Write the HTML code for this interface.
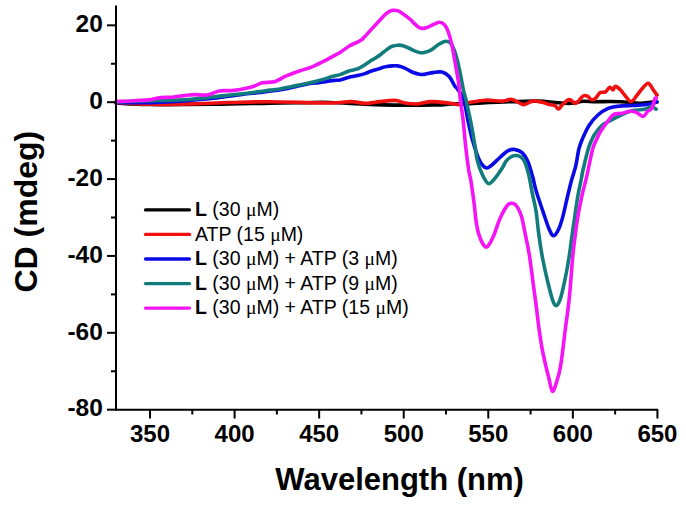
<!DOCTYPE html>
<html><head><meta charset="utf-8"><style>
html,body{margin:0;padding:0;background:#fff;}
body{width:686px;height:505px;overflow:hidden;}
svg{display:block;font-family:"Liberation Sans", sans-serif;}
</style></head><body>
<svg width="686" height="505" viewBox="0 0 686 505" font-family='"Liberation Sans", sans-serif'>
<rect width="686" height="505" fill="#fff"/>
<path d="M116.0,103.0 C121.5,103.2 132.8,104.3 149.0,104.5 C165.2,104.7 192.8,104.5 213.0,104.3 C233.2,104.1 254.7,103.4 270.0,103.1 C285.3,102.8 295.0,102.8 305.0,102.7 C315.0,102.6 317.1,102.1 330.0,102.5 C342.9,102.9 365.0,104.5 382.5,104.9 C400.0,105.3 423.8,105.1 435.0,104.9 C446.2,104.8 444.6,104.2 450.0,104.0 C455.4,103.8 458.8,104.0 467.5,103.7 C476.2,103.4 490.8,102.4 502.5,102.0 C514.2,101.6 528.8,101.0 537.5,101.1 C546.2,101.2 549.4,102.1 555.0,102.5 C560.6,102.9 566.3,103.5 571.0,103.3 C575.7,103.1 579.1,101.6 583.1,101.3 C587.1,101.0 590.6,101.7 595.1,101.7 C599.6,101.7 605.7,101.5 610.0,101.5 C614.3,101.5 617.2,101.5 621.0,101.7 C624.8,101.9 629.6,102.2 633.0,102.5 C636.4,102.8 637.9,103.4 641.1,103.3 C644.3,103.2 649.6,102.3 652.3,102.1 C654.9,101.9 656.2,102.3 657.0,102.3" fill="none" stroke="#000000" stroke-width="3.6" stroke-linejoin="round" stroke-linecap="round"/>
<path d="M116.0,102.5 C121.7,102.8 137.7,104.1 150.0,104.3 C162.3,104.5 176.5,104.2 190.0,103.9 C203.5,103.6 217.5,102.8 230.8,102.5 C244.1,102.2 253.5,101.7 270.0,101.8 C286.5,101.9 316.5,103.0 330.0,103.0 C343.5,103.0 345.2,101.5 351.0,101.6 C356.8,101.7 360.9,103.3 365.0,103.4 C369.1,103.5 370.6,102.7 375.5,102.2 C380.4,101.7 389.8,100.3 394.7,100.4 C399.6,100.5 401.4,102.4 405.2,103.0 C409.0,103.6 413.1,104.1 417.5,103.9 C421.9,103.7 426.1,101.7 431.5,101.6 C436.9,101.5 445.5,102.7 450.0,103.2 C454.5,103.7 455.8,104.6 458.7,104.6 C461.6,104.5 463.1,103.6 467.5,102.9 C471.9,102.2 479.2,100.5 485.0,100.2 C490.8,99.9 498.0,101.2 502.5,101.1 C507.0,101.0 508.6,98.8 512.1,99.4 C515.6,100.0 520.1,104.3 523.5,104.6 C526.9,104.9 529.3,101.5 532.2,101.1 C535.1,100.7 538.1,101.4 541.0,102.0 C543.9,102.6 547.4,104.0 549.7,104.6 C552.0,105.2 553.5,105.0 555.0,105.7 C556.5,106.4 557.3,109.2 558.6,108.9 C559.9,108.6 561.2,105.6 563.0,104.1 C564.8,102.5 567.2,99.7 569.4,99.6 C571.5,99.5 573.6,103.9 575.9,103.3 C578.2,102.7 581.1,97.2 583.1,96.0 C585.1,94.8 586.6,95.8 587.9,96.4 C589.2,97.0 589.9,99.2 591.1,99.6 C592.3,100.0 593.6,99.9 595.1,98.8 C596.6,97.7 598.4,93.9 599.9,92.8 C601.4,91.7 602.9,92.5 603.9,92.3 C604.9,92.1 605.0,92.3 606.0,91.5 C607.0,90.7 608.6,87.5 609.8,87.2 C611.0,87.0 612.1,90.1 613.0,90.0 C613.9,89.9 614.1,86.3 615.4,86.4 C616.7,86.5 619.1,88.5 621.0,90.4 C622.9,92.3 624.9,95.7 626.6,97.6 C628.4,99.5 629.8,102.0 631.5,101.6 C633.2,101.2 635.2,97.5 637.1,95.2 C639.0,92.9 640.8,90.0 642.7,88.0 C644.6,86.0 646.6,82.9 648.3,83.2 C650.0,83.5 651.6,87.6 653.1,89.6 C654.6,91.6 656.4,94.3 657.1,95.2" fill="none" stroke="#f01010" stroke-width="3.6" stroke-linejoin="round" stroke-linecap="round"/>
<path d="M116.0,102.5 C119.5,102.5 131.3,102.8 137.0,102.8 C142.7,102.8 144.5,102.9 150.0,102.7 C155.5,102.5 163.3,102.2 170.0,101.8 C176.7,101.4 182.8,101.0 190.0,100.4 C197.2,99.8 204.6,99.2 213.3,98.2 C222.0,97.2 234.2,95.5 242.0,94.5 C249.8,93.5 253.3,93.3 260.0,92.5 C266.7,91.7 274.4,90.8 282.0,89.5 C289.6,88.2 299.2,85.6 305.4,84.4 C311.5,83.2 314.4,83.2 318.9,82.6 C323.4,82.0 328.8,81.0 332.3,80.6 C335.8,80.1 337.2,80.5 340.0,79.9 C342.8,79.3 345.9,78.0 348.9,77.2 C351.9,76.5 355.1,76.0 357.8,75.4 C360.5,74.8 362.9,74.3 365.0,73.6 C367.1,72.9 368.6,72.1 370.4,71.4 C372.2,70.8 374.1,70.3 375.9,69.7 C377.7,69.1 379.5,68.4 381.3,67.9 C383.1,67.4 385.0,66.8 386.8,66.5 C388.6,66.2 390.4,66.0 392.2,65.9 C394.0,65.8 395.9,65.7 397.7,65.9 C399.5,66.2 401.3,66.7 403.1,67.4 C404.9,68.1 406.8,69.2 408.6,70.1 C410.4,71.0 412.2,72.1 414.0,72.8 C415.8,73.5 417.7,74.0 419.4,74.3 C421.1,74.6 421.9,74.7 424.2,74.4 C426.5,74.1 430.1,73.0 433.1,72.6 C436.1,72.2 439.3,71.4 442.0,72.1 C444.7,72.8 447.1,74.4 449.2,76.6 C451.3,78.8 453.0,83.3 454.5,85.5 C456.0,87.7 456.5,87.5 458.1,89.9 C459.7,92.3 462.2,94.8 463.9,100.0 C465.5,105.2 466.5,113.9 468.0,120.8 C469.5,127.7 471.0,135.1 472.9,141.6 C474.8,148.1 476.9,155.2 479.1,159.6 C481.3,164.0 483.9,167.0 486.0,167.9 C488.1,168.8 489.3,166.9 491.6,165.2 C493.9,163.5 497.1,159.9 499.9,157.5 C502.7,155.1 505.6,151.9 508.2,150.6 C510.8,149.3 512.9,149.2 515.2,149.6 C517.5,149.9 520.0,150.8 522.1,152.7 C524.2,154.6 525.9,157.0 527.6,161.0 C529.4,165.0 531.2,171.6 532.6,176.6 C534.0,181.6 534.4,185.0 536.1,190.8 C537.8,196.6 540.8,205.1 543.0,211.6 C545.2,218.1 547.5,225.6 549.3,229.6 C551.1,233.6 552.1,235.8 553.6,235.8 C555.1,235.8 557.0,232.8 558.5,229.6 C560.0,226.4 561.4,222.0 562.9,216.4 C564.4,210.8 566.2,201.9 567.7,195.8 C569.2,189.7 570.2,185.0 571.6,180.0 C573.0,175.0 574.6,170.9 575.8,165.7 C577.0,160.4 577.8,153.3 579.0,148.5 C580.2,143.7 581.6,140.8 583.3,136.9 C585.0,133.0 586.8,128.8 589.2,125.2 C591.6,121.5 594.8,117.8 597.9,115.0 C601.0,112.2 604.7,109.9 608.1,108.4 C611.5,106.9 614.2,106.7 618.3,106.2 C622.4,105.7 628.5,105.7 632.9,105.5 C637.3,105.3 641.1,105.2 644.5,104.8 C647.9,104.4 651.2,103.8 653.3,103.3 C655.4,102.8 656.3,102.1 656.9,101.9" fill="none" stroke="#0a0ae6" stroke-width="3.6" stroke-linejoin="round" stroke-linecap="round"/>
<path d="M116.0,102.0 C119.5,101.8 131.3,101.2 137.0,101.0 C142.7,100.8 144.5,100.7 150.0,100.6 C155.5,100.5 164.3,100.3 170.0,100.2 C175.7,100.1 180.0,100.0 184.0,99.8 C188.0,99.6 190.1,99.4 194.0,99.0 C197.9,98.6 202.3,98.2 207.5,97.6 C212.7,97.0 219.2,96.2 225.0,95.6 C230.8,95.0 236.7,94.5 242.5,93.8 C248.3,93.1 255.4,92.1 260.0,91.5 C264.6,90.9 266.9,90.5 270.0,90.1 C273.1,89.7 274.9,89.8 278.5,89.2 C282.1,88.6 287.4,87.4 291.9,86.5 C296.4,85.6 300.9,84.8 305.4,83.8 C309.9,82.8 314.4,81.8 318.9,80.6 C323.4,79.4 328.8,77.5 332.3,76.5 C335.8,75.5 337.2,75.5 340.0,74.6 C342.8,73.7 345.9,72.0 348.9,71.0 C351.9,70.0 355.1,69.8 357.8,68.8 C360.5,67.8 362.9,66.1 365.0,64.8 C367.1,63.5 368.6,62.2 370.4,61.0 C372.2,59.8 374.1,59.0 375.9,57.8 C377.7,56.6 379.5,55.4 381.3,54.0 C383.1,52.6 385.0,50.9 386.8,49.6 C388.6,48.3 390.4,47.0 392.2,46.3 C394.0,45.6 395.9,45.3 397.7,45.2 C399.5,45.1 401.3,45.3 403.1,45.8 C404.9,46.3 406.8,47.2 408.6,48.0 C410.4,48.8 412.2,49.9 414.0,50.7 C415.8,51.5 417.7,52.3 419.4,52.6 C421.1,52.9 422.2,53.0 424.2,52.5 C426.2,52.0 429.0,51.1 431.4,49.8 C433.8,48.5 436.1,45.9 438.5,44.5 C440.9,43.1 443.5,41.4 445.6,41.3 C447.7,41.1 449.4,41.6 451.0,43.6 C452.6,45.6 453.9,48.8 455.4,53.4 C456.9,58.0 458.5,65.1 459.8,71.2 C461.1,77.3 462.4,85.1 463.4,89.9 C464.4,94.7 464.8,94.6 466.0,100.0 C467.2,105.4 469.3,114.6 470.8,122.2 C472.3,129.8 473.9,139.5 475.0,145.8 C476.1,152.1 476.0,155.3 477.2,160.0 C478.4,164.7 480.1,170.0 482.0,173.9 C483.9,177.8 486.1,182.9 488.3,183.6 C490.5,184.3 492.9,180.6 495.2,178.0 C497.5,175.4 500.1,171.3 502.1,168.3 C504.1,165.3 504.8,162.1 507.0,160.0 C509.2,157.9 512.5,155.6 515.2,155.5 C518.0,155.4 521.3,156.5 523.5,159.6 C525.7,162.7 527.0,168.1 528.5,173.9 C530.0,179.8 531.3,188.4 532.6,194.7 C533.9,201.0 535.1,204.9 536.1,211.6 C537.1,218.3 537.8,226.9 538.9,235.0 C540.0,243.1 541.3,251.9 542.9,260.0 C544.5,268.1 546.5,276.8 548.2,283.7 C549.9,290.6 551.7,297.5 553.0,301.2 C554.3,304.9 555.0,305.9 556.2,305.6 C557.4,305.3 558.8,303.2 560.1,299.6 C561.4,296.0 562.7,290.3 564.1,283.7 C565.5,277.1 567.4,267.5 568.6,260.0 C569.9,252.5 570.6,245.8 571.6,238.5 C572.6,231.2 573.8,223.5 574.8,216.4 C575.8,209.3 576.8,201.9 577.9,195.8 C579.0,189.7 580.2,184.3 581.1,180.0 C582.0,175.7 581.8,175.2 583.0,170.0 C584.2,164.8 586.9,153.5 588.4,148.5 C589.9,143.5 590.6,142.4 591.7,140.0 C592.8,137.6 593.2,136.4 595.0,133.9 C596.8,131.4 599.4,127.6 602.3,125.2 C605.2,122.8 609.4,121.1 612.5,119.4 C615.6,117.7 617.8,116.5 621.2,115.0 C624.6,113.5 629.0,111.6 632.9,110.6 C636.8,109.6 641.4,109.8 644.5,109.2 C647.6,108.6 649.8,107.0 651.8,107.0 C653.8,107.0 655.5,108.8 656.2,109.2" fill="none" stroke="#127c7c" stroke-width="3.6" stroke-linejoin="round" stroke-linecap="round"/>
<path d="M116.3,101.4 C117.9,101.4 122.2,101.5 125.7,101.3 C129.2,101.1 133.4,100.7 137.3,100.5 C141.2,100.3 145.1,100.4 149.0,99.9 C152.9,99.4 156.7,98.0 160.6,97.6 C164.5,97.1 168.4,97.5 172.3,97.2 C176.2,96.9 180.3,96.0 184.0,95.6 C187.7,95.2 190.8,94.7 194.7,94.6 C198.6,94.5 203.4,95.6 207.5,95.0 C211.6,94.4 215.3,91.6 219.2,90.9 C223.1,90.2 226.9,90.9 230.8,90.6 C234.7,90.3 238.6,89.6 242.5,88.9 C246.4,88.2 250.8,87.2 254.1,86.2 C257.4,85.2 258.9,83.4 262.3,82.7 C265.7,82.0 270.6,82.8 274.4,81.8 C278.2,80.8 281.1,78.2 285.2,76.4 C289.2,74.6 294.2,72.8 298.7,71.2 C303.2,69.6 307.6,68.7 312.1,66.9 C316.6,65.1 321.6,62.4 325.6,60.3 C329.7,58.2 334.0,55.6 336.4,54.3 C338.8,53.0 337.9,53.9 340.0,52.5 C342.1,51.1 345.9,48.0 348.9,46.2 C351.9,44.4 355.4,43.2 357.8,41.9 C360.2,40.6 360.8,40.5 363.2,38.3 C365.6,36.1 369.3,31.5 372.1,28.5 C374.9,25.5 377.9,22.3 380.0,20.1 C382.1,17.9 382.9,16.7 384.4,15.3 C385.8,13.9 387.2,12.6 388.7,11.8 C390.1,11.0 391.5,10.5 393.1,10.3 C394.7,10.2 396.9,10.4 398.4,10.9 C399.9,11.4 400.6,12.2 401.9,13.1 C403.2,14.0 404.8,15.1 406.2,16.2 C407.6,17.3 409.1,18.4 410.6,19.7 C412.1,21.0 413.5,22.8 415.0,24.1 C416.5,25.4 418.1,26.9 419.4,27.6 C420.7,28.3 421.4,28.5 422.9,28.4 C424.3,28.3 426.5,27.7 428.1,27.1 C429.7,26.5 430.6,25.7 432.5,24.9 C434.4,24.1 437.4,22.3 439.4,22.3 C441.4,22.3 443.2,23.3 444.7,24.9 C446.2,26.5 447.1,28.7 448.3,32.0 C449.5,35.3 450.6,39.1 451.8,44.5 C453.0,49.9 454.2,57.3 455.4,64.1 C456.6,70.9 458.2,79.5 459.0,85.5 C459.8,91.5 459.7,94.1 460.4,100.0 C461.1,105.9 462.3,112.7 463.2,120.8 C464.1,128.9 465.0,140.3 465.9,148.5 C466.8,156.7 467.9,164.6 468.7,170.0 C469.5,175.4 469.9,174.8 470.9,180.8 C471.8,186.8 473.6,199.3 474.4,205.8 C475.2,212.3 475.2,215.3 475.9,220.0 C476.6,224.7 477.4,229.7 478.7,233.9 C480.0,238.1 482.1,242.9 483.6,245.0 C485.1,247.1 486.1,247.7 487.7,246.3 C489.3,244.9 491.2,241.2 493.3,236.6 C495.4,232.0 497.6,223.8 500.0,218.5 C502.4,213.2 505.5,207.5 507.7,205.0 C509.9,202.5 511.6,203.2 513.2,203.5 C514.8,203.8 516.0,204.9 517.4,207.1 C518.8,209.3 520.3,212.3 521.6,216.8 C522.9,221.3 523.9,227.4 525.2,233.9 C526.5,240.4 528.2,247.7 529.5,256.0 C530.8,264.3 532.1,275.1 533.2,283.7 C534.4,292.3 535.4,299.8 536.4,307.5 C537.4,315.2 538.3,323.6 539.2,330.0 C540.1,336.4 540.7,340.5 541.6,345.8 C542.5,351.1 543.6,356.4 544.8,361.7 C546.0,367.0 547.4,372.6 548.7,377.5 C550.0,382.4 551.1,390.5 552.4,391.3 C553.7,392.1 555.1,386.5 556.5,382.3 C557.9,378.1 559.1,374.7 560.6,366.0 C562.1,357.3 563.8,341.2 565.2,330.0 C566.6,318.8 568.0,310.7 569.2,299.0 C570.4,287.3 571.5,270.1 572.4,260.0 C573.3,249.9 573.9,245.8 574.8,238.5 C575.7,231.2 576.7,223.5 577.9,216.4 C579.1,209.3 580.6,201.9 581.9,195.8 C583.2,189.7 584.8,184.6 585.9,180.0 C587.0,175.4 587.4,173.2 588.5,168.0 C589.6,162.8 591.5,153.2 592.8,148.5 C594.1,143.8 595.2,142.4 596.5,139.5 C597.8,136.6 598.9,134.1 600.8,131.0 C602.7,127.9 605.9,123.6 608.1,120.8 C610.3,118.0 611.7,115.5 613.9,114.3 C616.1,113.1 618.5,114.0 621.2,113.5 C623.9,113.0 627.6,111.5 630.0,111.3 C632.4,111.1 633.6,111.2 635.8,112.1 C638.0,112.9 641.1,116.5 643.1,116.4 C645.1,116.3 646.0,112.6 647.5,111.3 C649.0,110.0 650.6,110.5 651.8,108.4 C653.0,106.4 654.1,100.7 654.8,99.0 C655.5,97.3 656.0,98.3 656.2,98.2" fill="none" stroke="#f514f5" stroke-width="3.6" stroke-linejoin="round" stroke-linecap="round"/>
<line x1="116" y1="5.4" x2="116" y2="410.8" stroke="#000" stroke-width="2"/>
<line x1="115" y1="409.8" x2="658.2" y2="409.8" stroke="#000" stroke-width="2"/>
<line x1="107" y1="409.68" x2="116" y2="409.68" stroke="#000" stroke-width="2"/>
<text x="102.8" y="416.38" text-anchor="end" font-size="24.5" font-weight="bold">-80</text>
<line x1="107" y1="332.81" x2="116" y2="332.81" stroke="#000" stroke-width="2"/>
<text x="102.8" y="339.51" text-anchor="end" font-size="24.5" font-weight="bold">-60</text>
<line x1="107" y1="255.94" x2="116" y2="255.94" stroke="#000" stroke-width="2"/>
<text x="102.8" y="262.64" text-anchor="end" font-size="24.5" font-weight="bold">-40</text>
<line x1="107" y1="179.07" x2="116" y2="179.07" stroke="#000" stroke-width="2"/>
<text x="102.8" y="185.77" text-anchor="end" font-size="24.5" font-weight="bold">-20</text>
<line x1="107" y1="102.20" x2="116" y2="102.20" stroke="#000" stroke-width="2"/>
<text x="102.8" y="108.90" text-anchor="end" font-size="24.5" font-weight="bold">0</text>
<line x1="107" y1="25.33" x2="116" y2="25.33" stroke="#000" stroke-width="2"/>
<text x="102.8" y="32.03" text-anchor="end" font-size="24.5" font-weight="bold">20</text>
<line x1="111" y1="371.25" x2="116" y2="371.25" stroke="#000" stroke-width="2"/>
<line x1="111" y1="294.38" x2="116" y2="294.38" stroke="#000" stroke-width="2"/>
<line x1="111" y1="217.50" x2="116" y2="217.50" stroke="#000" stroke-width="2"/>
<line x1="111" y1="140.63" x2="116" y2="140.63" stroke="#000" stroke-width="2"/>
<line x1="111" y1="63.77" x2="116" y2="63.77" stroke="#000" stroke-width="2"/>
<line x1="150.03" y1="409.8" x2="150.03" y2="418.5" stroke="#000" stroke-width="2"/>
<text x="150.03" y="441.5" text-anchor="middle" font-size="24" font-weight="bold">350</text>
<line x1="234.59" y1="409.8" x2="234.59" y2="418.5" stroke="#000" stroke-width="2"/>
<text x="234.59" y="441.5" text-anchor="middle" font-size="24" font-weight="bold">400</text>
<line x1="319.16" y1="409.8" x2="319.16" y2="418.5" stroke="#000" stroke-width="2"/>
<text x="319.16" y="441.5" text-anchor="middle" font-size="24" font-weight="bold">450</text>
<line x1="403.72" y1="409.8" x2="403.72" y2="418.5" stroke="#000" stroke-width="2"/>
<text x="403.72" y="441.5" text-anchor="middle" font-size="24" font-weight="bold">500</text>
<line x1="488.29" y1="409.8" x2="488.29" y2="418.5" stroke="#000" stroke-width="2"/>
<text x="488.29" y="441.5" text-anchor="middle" font-size="24" font-weight="bold">550</text>
<line x1="572.85" y1="409.8" x2="572.85" y2="418.5" stroke="#000" stroke-width="2"/>
<text x="572.85" y="441.5" text-anchor="middle" font-size="24" font-weight="bold">600</text>
<line x1="657.42" y1="409.8" x2="657.42" y2="418.5" stroke="#000" stroke-width="2"/>
<text x="657.42" y="441.5" text-anchor="middle" font-size="24" font-weight="bold">650</text>
<line x1="192.31" y1="409.8" x2="192.31" y2="414.5" stroke="#000" stroke-width="2"/>
<line x1="276.87" y1="409.8" x2="276.87" y2="414.5" stroke="#000" stroke-width="2"/>
<line x1="361.44" y1="409.8" x2="361.44" y2="414.5" stroke="#000" stroke-width="2"/>
<line x1="446.00" y1="409.8" x2="446.00" y2="414.5" stroke="#000" stroke-width="2"/>
<line x1="530.57" y1="409.8" x2="530.57" y2="414.5" stroke="#000" stroke-width="2"/>
<line x1="615.13" y1="409.8" x2="615.13" y2="414.5" stroke="#000" stroke-width="2"/>
<text x="399.6" y="490.3" text-anchor="middle" font-size="31" font-weight="bold">Wavelength (nm)</text>
<text transform="translate(36.8,211.7) rotate(-90)" x="0" y="0" text-anchor="middle" font-size="32" font-weight="bold">CD (mdeg)</text>
<line x1="145.5" y1="209.90" x2="189.5" y2="209.90" stroke="#000000" stroke-width="3.3" stroke-linecap="round"/>
<text x="195" y="216.20" font-size="19.5"><tspan font-weight="bold">L</tspan> (30 <tspan font-family="Liberation Serif">μ</tspan>M)</text>
<line x1="145.5" y1="234.45" x2="189.5" y2="234.45" stroke="#f01010" stroke-width="3.3" stroke-linecap="round"/>
<text x="195" y="240.75" font-size="19.5">ATP (15 <tspan font-family="Liberation Serif">μ</tspan>M)</text>
<line x1="145.5" y1="259.00" x2="189.5" y2="259.00" stroke="#0a0ae6" stroke-width="3.3" stroke-linecap="round"/>
<text x="195" y="265.30" font-size="19.5"><tspan font-weight="bold">L</tspan> (30 <tspan font-family="Liberation Serif">μ</tspan>M) + ATP (3 <tspan font-family="Liberation Serif">μ</tspan>M)</text>
<line x1="145.5" y1="283.55" x2="189.5" y2="283.55" stroke="#127c7c" stroke-width="3.3" stroke-linecap="round"/>
<text x="195" y="289.85" font-size="19.5"><tspan font-weight="bold">L</tspan> (30 <tspan font-family="Liberation Serif">μ</tspan>M) + ATP (9 <tspan font-family="Liberation Serif">μ</tspan>M)</text>
<line x1="145.5" y1="308.10" x2="189.5" y2="308.10" stroke="#f514f5" stroke-width="3.3" stroke-linecap="round"/>
<text x="195" y="314.40" font-size="19.5"><tspan font-weight="bold">L</tspan> (30 <tspan font-family="Liberation Serif">μ</tspan>M) + ATP (15 <tspan font-family="Liberation Serif">μ</tspan>M)</text>
</svg>
</body></html>
